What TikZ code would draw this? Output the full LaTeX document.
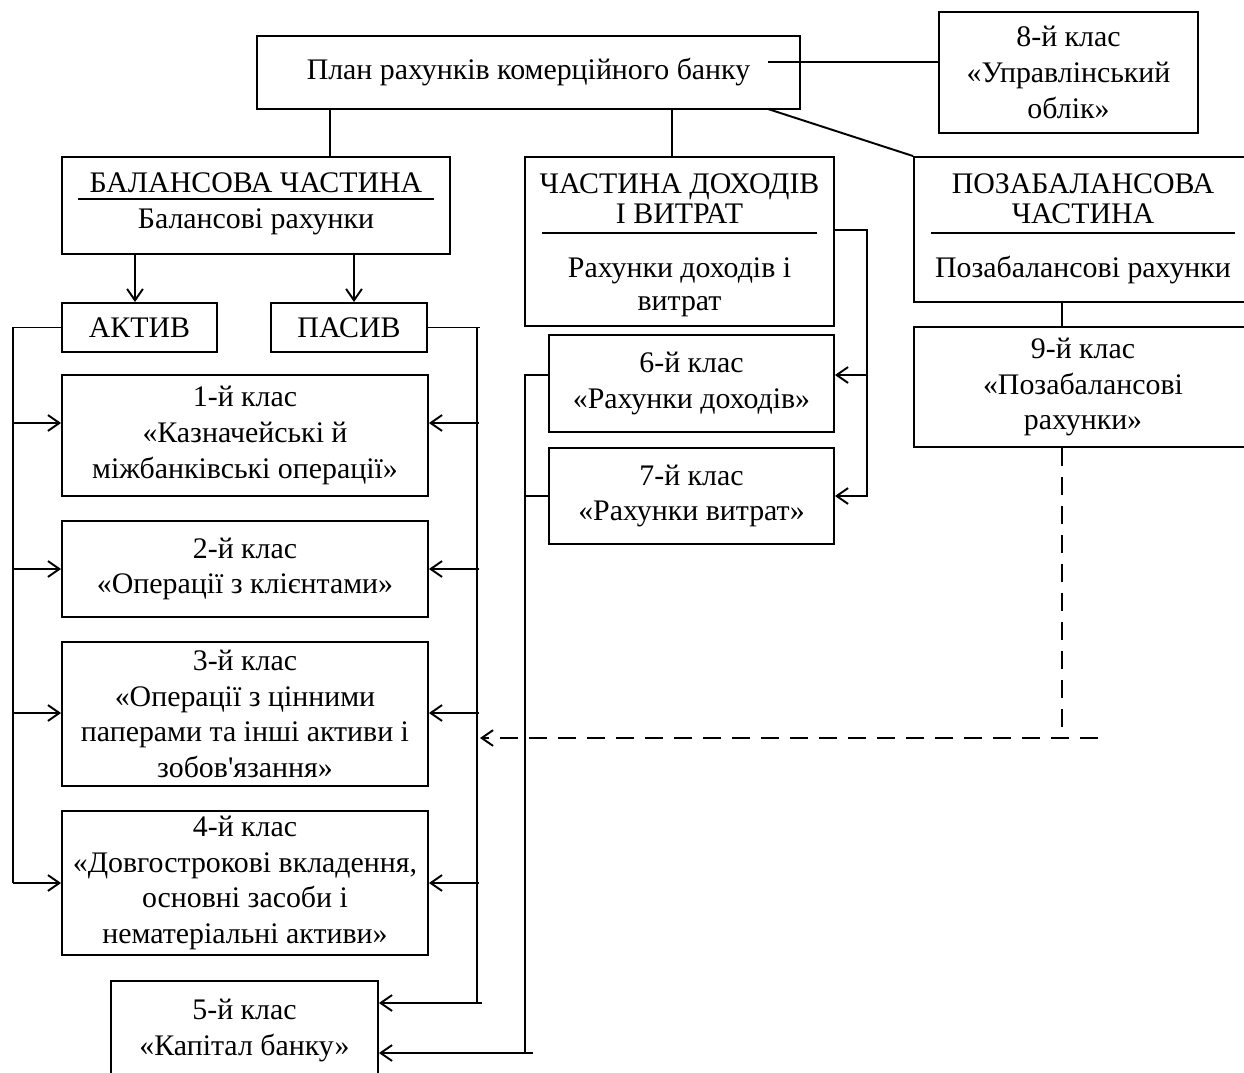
\documentclass[tikz,border=0pt]{standalone}
\usepackage{fontspec}
\setmainfont{Liberation Serif}
\usetikzlibrary{arrows.meta}

\begin{document}
\begin{tikzpicture}[x=0.02cm, y=-0.02cm, line width=1.1pt,
  font=\fontsize{17}{20.3}\selectfont,
  >={Straight Barb[length=6.5pt, width=9pt, line width=1.1pt]},
  box/.style={draw, inner sep=0pt, align=center},
  txt/.style={inner sep=0pt, anchor=base},
  dashline/.style={dash pattern=on 10.5pt off 6pt}]
\useasboundingbox (0,0) rectangle (1244,1072);

% top level
\node [box, minimum width=10.86cm, minimum height=1.46cm] (plan) at (528.5, 72.5) {План рахунків комерційного банку};
\node [box, minimum width=5.18cm, minimum height=2.42cm] (kl8) at (1068.5, 72.5) {8-й клас\\«Управлінський\\облік»};

% balance part
\node [box, minimum width=7.76cm, minimum height=1.94cm] (bal) at (256, 205.5) {};
\node [txt] (balHead) at (256, 192) {БАЛАНСОВА ЧАСТИНА};
\node [txt] (balSub) at (256, 228) {Балансові рахунки};
\draw (78, 199) -- (434, 199);

\node [box, minimum width=3.10cm, minimum height=0.98cm] (aktyv) at (139.5, 327.5) {АКТИВ};
\node [box, minimum width=3.12cm, minimum height=0.98cm] (pasyv) at (349, 327.5) {ПАСИВ};

\node [box, minimum width=7.32cm, minimum height=2.42cm] (kl1) at (245, 435.5) {1-й клас\\«Казначейські й\\міжбанківські операції»};
\node [box, minimum width=7.32cm, minimum height=1.92cm] (kl2) at (245, 569) {2-й клас\\«Операції з клієнтами»};
\node [box, minimum width=7.32cm, minimum height=2.88cm] (kl3) at (245, 714) {3-й клас\\«Операції з цінними\\паперами та інші активи і\\зобов\textquotesingle язання»};
\node [box, minimum width=7.32cm, minimum height=2.88cm] (kl4) at (245, 883) {4-й клас\\«Довгострокові вкладення,\\основні засоби і\\нематеріальні активи»};
\node [box, minimum width=5.34cm, minimum height=1.98cm] (kl5) at (244.5, 1030.5) {5-й клас\\«Капітал банку»};

% income and expenses part
\node [box, minimum width=6.18cm, minimum height=3.38cm] (inc) at (679.5, 241.5) {};
\node [txt] (inc1) at (679.5, 193) {ЧАСТИНА ДОХОДІВ};
\node [txt] (inc2) at (679.5, 223) {І ВИТРАТ};
\node [txt] (incSub1) at (679.5, 277) {Рахунки доходів і};
\node [txt] (incSub2) at (679.5, 310) {витрат};
\draw (542, 233) -- (817, 233);

\node [box, minimum width=5.70cm, minimum height=1.94cm] (kl6) at (691.5, 383.5) {6-й клас\\«Рахунки доходів»};
\node [box, minimum width=5.70cm, minimum height=1.92cm] (kl7) at (691.5, 496) {7-й клас\\«Рахунки витрат»};

% off-balance part
\node [box, minimum width=6.76cm, minimum height=2.90cm] (off) at (1083, 229.5) {};
\node [txt] (off1) at (1083, 193) {ПОЗАБАЛАНСОВА};
\node [txt] (off2) at (1083, 223) {ЧАСТИНА};
\node [txt] (offSub) at (1083, 277) {Позабалансові рахунки};
\draw (931, 233) -- (1235, 233);

\node [box, minimum width=6.76cm, minimum height=2.40cm] (kl9) at (1083, 387) {9-й клас\\«Позабалансові\\рахунки»};

% links from the plan
\coordinate (dBal) at (330, 0);
\coordinate (dInc) at (672, 0);
\coordinate (planR) at (768, 62);
\coordinate (planD) at (768, 109);
\draw (plan.south -| dBal) -- (bal.north -| dBal);
\draw (plan.south -| dInc) -- (inc.north -| dInc);
\draw (planR) -- (kl8.west |- planR);
\draw (planD) -- (off.north west);

% balance: assets and liabilities
\coordinate (dAkt) at (135, 0);
\coordinate (dPas) at (354, 0);
\draw [->] (bal.south -| dAkt) -- (aktyv.north -| dAkt);
\draw [->] (bal.south -| dPas) -- (pasyv.north -| dPas);

\coordinate (l1) at (13, 423);
\coordinate (l2) at (13, 569);
\coordinate (l3) at (13, 713);
\coordinate (l4) at (13, 883);
\draw (aktyv.west) -| (l4);
\foreach \k/\l in {kl1/l1, kl2/l2, kl3/l3, kl4/l4}
  \draw [->] (\l) -- (\l -| \k.west);

\coordinate (r1) at (479, 423);
\coordinate (r2) at (479, 569);
\coordinate (r3) at (479, 713);
\coordinate (r4) at (479, 883);
\coordinate (r5) at (482, 1003);
\draw (pasyv.east) -- (480, 327.5);
\draw (477, 327.5) -- (477, 1003);
\foreach \k/\r in {kl1/r1, kl2/r2, kl3/r3, kl4/r4, kl5/r5}
  \draw [->] (\r) -- (\r -| \k.east);

% income: buses
\coordinate (q0) at (867, 230);
\coordinate (q1) at (868, 375);
\coordinate (q2) at (868, 496);
\draw (q0 -| inc.east) -- (q0) -- (867, 496);
\draw [->] (q1) -- (q1 -| kl6.east);
\draw [->] (q2) -- (q2 -| kl7.east);

\coordinate (p1) at (525, 375);
\coordinate (p2) at (525, 496);
\coordinate (p3) at (533, 1053);
\draw (kl6.west |- p1) -- (p1) -- (525, 1053);
\draw (kl7.west |- p2) -- (p2);
\draw [->] (p3) -- (p3 -| kl5.east);

% off-balance
\coordinate (dOff) at (1062, 0);
\coordinate (dd) at (1062, 738);
\coordinate (de) at (1098, 738);
\coordinate (dt) at (480, 738);
\draw (off.south -| dOff) -- (kl9.north -| dOff);
\draw [dashline] (kl9.south -| dOff) -- (dd);
\draw [dashline, ->] (de) -- (dt);
\end{tikzpicture}
\end{document}
